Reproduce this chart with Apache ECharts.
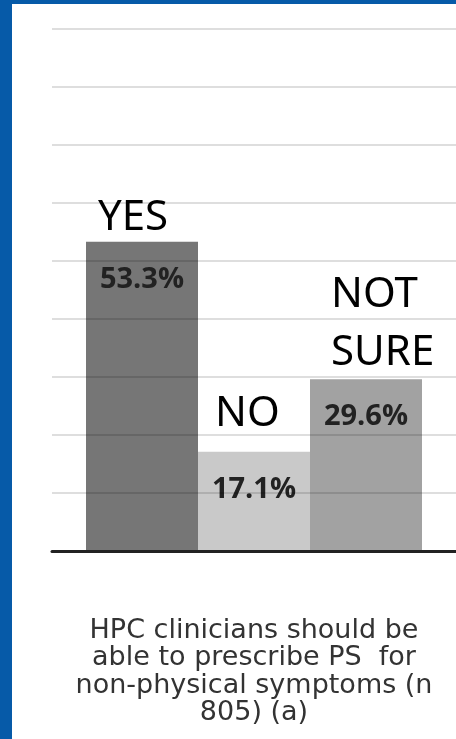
<!DOCTYPE html>
<html>
<head>
<meta charset="utf-8">
<script src="https://cdn.jsdelivr.net/npm/echarts@6/dist/echarts.min.js"></script>
<style>
html,body{margin:0;padding:0;background:#fff;}
#frame{position:absolute;left:0;top:0;width:456px;height:739px;overflow:hidden;background:#fff;}
#bl{position:absolute;left:0;top:0;width:12px;height:739px;background:#065aa8;}
#bt{position:absolute;left:0;top:0;width:456px;height:4px;background:#065aa8;}
#chart{position:absolute;left:0;top:0;width:456px;height:739px;}
</style>
</head>
<body>
<div id="frame">
<div id="chart"></div>
<div id="bl"></div>
<div id="bt"></div>
</div>
<script>
// ---- data ----
const categories = ['HPC clinicians should be\nable to prescribe PS  for\nnon-physical symptoms (n\n805) (a)'];
const seriesNames = ['YES', 'NO', 'NOT\nSURE'];
const values = [53.3, 17.1, 29.6];
const valueLabels = ['53.3%', '17.1%', '29.6%'];
const yMin = 0, yMax = 90, yInterval = 10;

// ---- styles ----
const barColors = ['#767676', '#c9c9c9', '#a2a2a2'];
const nameOffsets = [[-44, 2], [-39, -12], [-35, 8]];
const nameLineHeights = [42, 42, 58];
const barW = 112;

const chart = echarts.init(document.getElementById('chart'), null, {renderer: 'canvas'});

const series = [];
seriesNames.forEach((nm, i) => {
  series.push({
    type: 'bar', name: nm, xAxisIndex: 0, yAxisIndex: 0,
    barWidth: barW, barGap: '0%',
    data: [values[i]],
    itemStyle: {color: barColors[i]},
    label: {
      show: true, position: 'insideTop', distance: 23,
      formatter: () => valueLabels[i],
      fontFamily: 'Open Sans', fontWeight: 'bold', fontSize: 29, lineHeight: 29,
      color: '#222'
    },
    silent: true, z: 2
  });
});
seriesNames.forEach((nm, i) => {
  series.push({
    type: 'bar', name: nm + '_lbl', xAxisIndex: 1, yAxisIndex: 0,
    barWidth: barW, barGap: '0%',
    data: [values[i]],
    itemStyle: {color: 'rgba(0,0,0,0)'},
    label: {
      show: true, position: 'top', distance: 5, align: 'left',
      offset: nameOffsets[i],
      formatter: () => nm,
      fontFamily: 'Noto Sans', fontSize: 42, lineHeight: nameLineHeights[i],
      color: '#000'
    },
    silent: true, z: 5
  });
});

chart.setOption({
  animation: false,
  backgroundColor: '#fff',
  grid: {left: 52, top: 29, width: 407, height: 522, containLabel: false},
  xAxis: [{
    type: 'category', data: categories,
    axisLine: {show: true, lineStyle: {color: '#222', width: 3}},
    axisTick: {show: false},
    axisLabel: {
      interval: 0, margin: 66, fontFamily: 'DejaVu Sans', fontSize: 27, lineHeight: 27.5,
      color: '#333', align: 'center'
    },
    z: 4
  }, {
    type: 'category', data: categories, show: false
  }],
  yAxis: {
    type: 'value', min: yMin, max: yMax, interval: yInterval,
    axisLine: {show: false}, axisTick: {show: false}, axisLabel: {show: false},
    splitLine: {show: true, lineStyle: {color: 'rgba(0,0,0,0.13)', width: 2}},
    z: 3
  },
  series: series
});
</script>
</body>
</html>
